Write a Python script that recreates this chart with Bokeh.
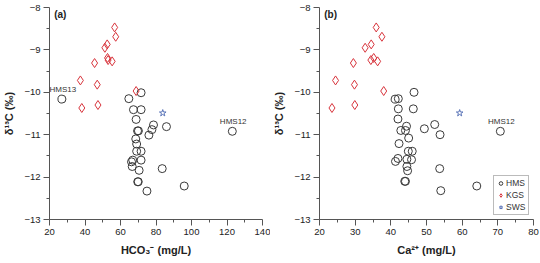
from bokeh.plotting import figure
from bokeh.layouts import row
from bokeh.models import FixedTicker, Label, Legend, LegendItem
from bokeh.embed import file_html
from bokeh.resources import INLINE

# ---- data ----
kgs_y = [-8.47, -8.69, -8.87, -8.95, -9.19, -9.24, -9.27, -9.31, -9.72, -9.82, -9.97, -10.37, -10.30]
kgs_hco3 = [56.7, 57.3, 52.5, 51.2, 52.7, 53.0, 55.3, 45.4, 37.4, 46.9, 68.8, 38.2, 47.3]
kgs_ca = [35.9, 37.5, 34.5, 32.8, 35.2, 34.4, 36.3, 29.5, 24.5, 29.8, 38.0, 23.5, 29.9]

hms_a_x = [27.0, 64.7, 71.6, 67.3, 71.6, 68.8, 78.6, 77.7, 85.9, 69.6, 70.1, 76.0, 68.6, 69.1,
           69.1, 71.6, 66.9, 66.2, 71.6, 66.6, 70.5, 83.5, 69.7, 70.0, 74.9, 95.9, 123.0]
hms_a_y = [-10.16, -10.15, -10.01, -10.41, -10.41, -10.64, -10.77, -10.88, -10.81, -10.91, -10.91,
           -11.01, -11.10, -11.22, -11.39, -11.39, -11.60, -11.64, -11.60, -11.75, -11.84, -11.80,
           -12.11, -12.11, -12.33, -12.21, -10.92]

hms_b_x = [41.2, 42.1, 46.5, 42.1, 46.3, 42.0, 44.4, 42.8, 44.1, 49.4, 52.3, 45.0, 53.8, 42.3,
           44.9, 46.0, 42.0, 41.3, 44.5, 45.8, 44.5, 44.7, 53.7, 43.9, 44.1, 54.0, 64.1, 70.7]
hms_b_y = [-10.16, -10.15, -10.00, -10.39, -10.39, -10.63, -10.80, -10.90, -10.90, -10.86, -10.76,
           -11.08, -11.00, -11.21, -11.39, -11.39, -11.56, -11.63, -11.58, -11.59, -11.75, -11.85,
           -11.80, -12.10, -12.10, -12.32, -12.21, -10.92]

sws_hco3 = [83.8]
sws_ca = [59.3]
sws_y = [-10.49]

y_ticks = [-13, -12, -11, -10, -9, -8]
y_minor = [-12.5, -11.5, -10.5, -9.5, -8.5]
xa_ticks = [20, 40, 60, 80, 100, 120, 140]
xa_minor = [30, 50, 70, 90, 110, 130]
xb_ticks = [20, 30, 40, 50, 60, 70, 80]
xb_minor = [25, 35, 45, 55, 65, 75]

FONT = "Liberation Sans"
AX = "#555555"
CIRC = "#3a3a3a"
RED = "#d8343c"
BLUE = "#5a74b8"


def make_fig(xr, xt, xm, xlabel, bl, br, bb, tag):
    p = figure(width=270, height=263, x_range=xr, y_range=(-13, -8),
               output_backend="svg", toolbar_location=None,
               min_border_left=bl, min_border_right=br, min_border_top=7,
               min_border_bottom=bb)
    p.outline_line_color = None
    p.xgrid.visible = False
    p.ygrid.visible = False
    p.xaxis.ticker = FixedTicker(ticks=xt, minor_ticks=xm)
    p.yaxis.ticker = FixedTicker(ticks=y_ticks, minor_ticks=y_minor)
    for ax in (p.xaxis, p.yaxis):
        ax.axis_line_color = AX
        ax.major_tick_line_color = AX
        ax.minor_tick_line_color = AX
        ax.major_tick_out = 6
        ax.major_tick_in = 0
        ax.minor_tick_out = 3
        ax.minor_tick_in = 0
        ax.major_label_text_font = FONT
        ax.major_label_text_font_size = "9.5px"
        ax.major_label_text_color = "#222222"
        ax.axis_label_text_font = FONT
        ax.axis_label_text_font_style = "bold"
        ax.axis_label_text_font_size = "11px"
        ax.axis_label_text_color = "#222222"
    p.xaxis.major_label_standoff = 3
    p.yaxis.major_label_standoff = 3
    p.xaxis.axis_label = xlabel
    p.yaxis.axis_label = "δ¹³C (‰)"
    p.xaxis.axis_label_standoff = 6
    p.yaxis.axis_label_standoff = 6
    p.add_layout(Label(x=xr[0] + (xr[1] - xr[0]) * 0.022, y=-8.04, text=tag,
                       text_font=FONT, text_font_style="bold", text_font_size="10px",
                       text_baseline="top", text_color="#222222"))
    return p


pa = make_fig((20, 140), xa_ticks, xa_minor, "HCO₃⁻ (mg/L)", 46, 8, 43, "(a)")
pa.scatter(hms_a_x, hms_a_y, marker="circle", size=8, fill_color=None,
           line_color=CIRC, line_width=1)
pa.scatter(kgs_hco3, kgs_y, marker="diamond", size=9, fill_color=None,
           line_color=RED, line_width=1)
pa.scatter(sws_hco3, sws_y, marker="star", size=7, fill_color=None,
           line_color=BLUE, line_width=1)
pa.add_layout(Label(x=27.5, y=-10.03, text="HMS13", text_font=FONT, text_font_size="8px",
                    text_align="center", text_baseline="bottom", text_color="#333333"))
pa.add_layout(Label(x=123.5, y=-10.8, text="HMS12", text_font=FONT, text_font_size="8px",
                    text_align="center", text_baseline="bottom", text_color="#333333"))

pb = make_fig((20, 80), xb_ticks, xb_minor, "Ca²⁺ (mg/L)", 48, 7, 44, "(b)")
r1 = pb.scatter(hms_b_x, hms_b_y, marker="circle", size=8, fill_color=None,
                line_color=CIRC, line_width=1)
r2 = pb.scatter(kgs_ca, kgs_y, marker="diamond", size=9, fill_color=None,
                line_color=RED, line_width=1)
r3 = pb.scatter(sws_ca, sws_y, marker="star", size=7, fill_color=None,
                line_color=BLUE, line_width=1)
pb.add_layout(Label(x=71.0, y=-10.8, text="HMS12", text_font=FONT, text_font_size="8px",
                    text_align="center", text_baseline="bottom", text_color="#333333"))

leg = Legend(items=[LegendItem(label="HMS", renderers=[r1]),
                    LegendItem(label="KGS", renderers=[r2]),
                    LegendItem(label="SWS", renderers=[r3])],
             location="bottom_right")
leg.label_text_font = FONT
leg.label_text_font_size = "8.5px"
leg.label_text_color = "#333333"
leg.glyph_width = 9
leg.glyph_height = 10
leg.label_height = 10
leg.spacing = 2
leg.padding = 2
leg.margin = 4
leg.label_standoff = 1
leg.border_line_color = "#777777"
leg.border_line_width = 1
leg.background_fill_alpha = 1
pb.add_layout(leg)

layout = row(pa, pb)
open("out.html", "w").write(file_html(layout, INLINE))
